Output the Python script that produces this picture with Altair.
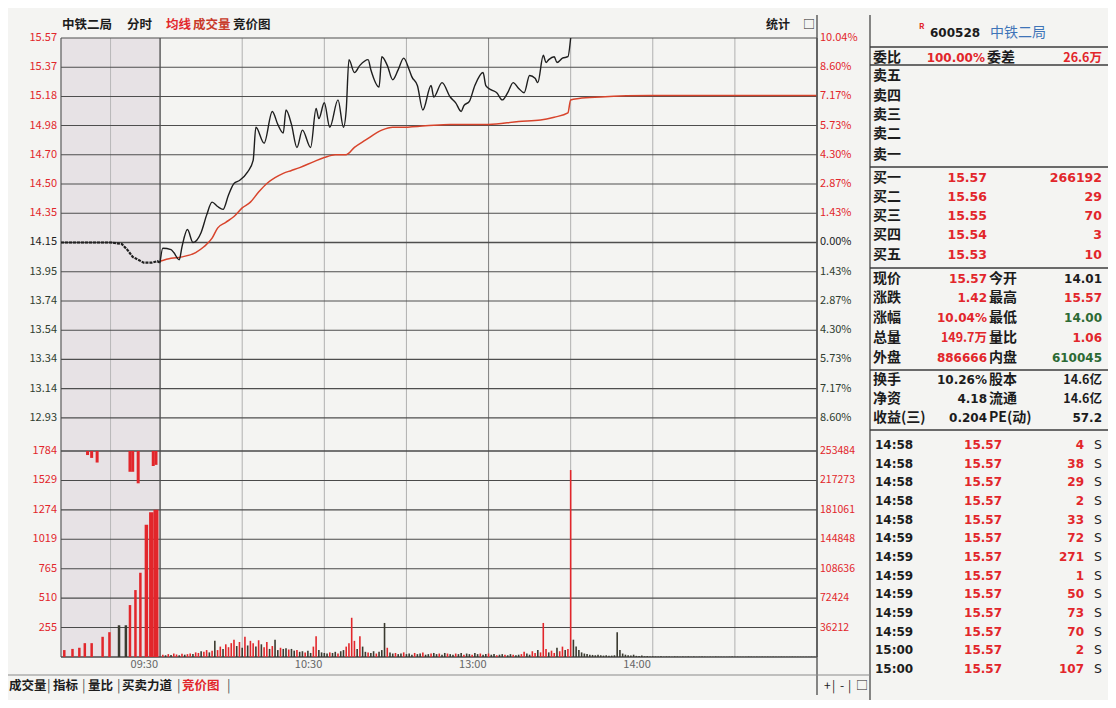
import altair as alt
import pandas as pd

# ------------------------------------------------------------------ data
prev_close = 14.15
grid_prices = [15.57, 15.367, 15.164, 14.962, 14.759, 14.556, 14.353, 14.15,
               13.947, 13.744, 13.541, 13.338, 13.135, 12.932]
price_labels = ["15.57", "15.37", "15.18", "14.98", "14.70", "14.50", "14.35", "14.15",
                "13.95", "13.74", "13.54", "13.34", "13.14", "12.93"]
pct_labels = ["10.04%", "8.60%", "7.17%", "5.73%", "4.30%", "2.87%", "1.43%", "0.00%",
              "1.43%", "2.87%", "4.30%", "5.73%", "7.17%", "8.60%"]
vol_grid = [255, 510, 765, 1020, 1275, 1530, 1785]
vol_labels_left = ["255", "510", "765", "1019", "1274", "1529", "1784"]
vol_labels_right = ["36212", "72424", "108636", "144848", "181061", "217273", "253484"]
time_ticks = [0, 60, 120, 180]
time_labels = ["09:30", "10:30", "13:00", "14:00"]
vgrid_m = [-36.2, -18.1, 0, 30, 60, 90, 120, 150, 180, 210, 240]

# call-auction (pre-market) part
pre_min = [-36.2, -30, -24, -18, -14, -12, -10, -8, -6, -3, -1, 0]
pre_price = [14.15, 14.15, 14.15, 14.15, 14.14, 14.10, 14.05, 14.03, 14.01, 14.01, 14.02, 14.01]
auction_min = [-35, -32, -29.5, -27.5, -25, -21, -18.5, -15, -12.5, -11, -9, -7.2, -5, -3.2, -1.5]
auction_vol = [60, 70, 80, 120, 120, 175, 215, 275, 275, 450, 580, 730, 1145, 1255, 1275]
auction_up = "rrrrrrrkkrrrrrr"
gap_min = [-26.5, -25, -23, -11, -10, -8, -2.5, -1.5]
gap_depth = [35, 60, 100, 180, 180, 280, 130, 120]

# intraday price (minutes after 09:30)
price_min = [0, 1, 4, 5, 7, 8, 10, 12, 15, 17, 19, 21, 23, 25, 27, 29, 32, 34, 35, 38,
             41, 43, 45, 46, 48, 50, 52, 55, 57, 58, 60, 62, 65, 67, 68, 69, 71, 73, 76, 77,
             80, 81, 83, 85, 87, 89, 91, 92, 94, 96, 99, 100, 103, 106, 108, 110, 111, 113, 115, 118,
             119, 121, 123, 125, 127, 129, 131, 133, 135, 137, 138, 140, 141, 142, 144, 145, 147, 149, 150]
price_val = [14.01, 14.11, 14.10, 14.08, 14.03, 14.12, 14.24, 14.15, 14.22, 14.34,
             14.43, 14.40, 14.38, 14.48, 14.56, 14.58, 14.64, 14.72, 14.95, 14.84,
             15.06, 14.97, 14.91, 15.07, 14.97, 14.81, 14.93, 14.81, 15.08, 15.01,
             15.12, 14.95, 15.14, 14.95, 15.07, 15.42, 15.33, 15.38, 15.42, 15.35,
             15.23, 15.44, 15.38, 15.28, 15.35, 15.43, 15.35, 15.30, 15.24, 15.07,
             15.24, 15.16, 15.26, 15.16, 15.12, 15.06, 15.10, 15.13, 15.24, 15.33,
             15.24, 15.21, 15.19, 15.14, 15.19, 15.26, 15.22, 15.19, 15.31, 15.29,
             15.26, 15.45, 15.40, 15.42, 15.44, 15.40, 15.43, 15.44, 15.57]
avg_min = [0, 4, 8, 13, 16, 19, 21, 24, 27, 30, 33, 36, 39, 42, 45, 48, 51, 56, 60, 64,
           68, 71, 75, 81, 85, 88, 97, 106, 120, 131, 139, 144, 149, 150, 153, 161, 179, 210, 240]
avg_val = [14.02, 14.04, 14.05, 14.08, 14.12, 14.18, 14.25, 14.29, 14.33, 14.39,
           14.43, 14.50, 14.56, 14.60, 14.63, 14.65, 14.67, 14.71, 14.74, 14.76,
           14.76, 14.81, 14.86, 14.93, 14.95, 14.95, 14.96, 14.97, 14.97, 14.99,
           15.00, 15.02, 15.05, 15.14, 15.15, 15.16, 15.17, 15.17, 15.17]

# per-minute volume (lots), minute 1..240
vol = [20, 15, 25, 18, 30, 22, 15, 28, 20, 25,
       30, 25, 40, 35, 50, 45, 60, 40, 55, 140,
       60, 90, 70, 110, 85, 120, 150, 95, 130, 80,
       175, 100, 140, 120, 90, 145, 110, 85, 130, 70,
       95, 150, 60, 80, 70, 75, 65, 70, 55, 60,
       45, 50, 40, 55, 35, 90, 180, 60, 40, 35,
       30, 40, 35, 45, 30, 50, 60, 90, 120, 340,
       140, 70, 180, 90, 45, 40, 35, 50, 30, 45,
       60, 295, 80, 40, 30, 35, 25, 30, 40, 25,
       30, 20, 35, 25, 30, 40, 20, 25, 30, 35,
       25, 30, 20, 35, 30, 25, 20, 30, 25, 35,
       20, 30, 25, 20, 35, 25, 30, 20, 25, 30,
       20, 25, 15, 20, 25, 20, 15, 25, 20, 15,
       20, 25, 45, 30, 20, 50, 35, 60, 40, 295,
       70, 40, 55, 35, 80, 50, 90, 60, 70, 1620,
       150, 90, 60, 40, 30, 25, 20, 18, 15, 20,
       15, 12, 15, 10, 12, 15, 215, 60, 30, 20,
       15, 12, 20, 10, 8, 12, 6, 8, 5, 6,
       5, 4, 6, 3, 5, 4, 3, 5, 4, 3,
       4, 3, 5, 3, 4, 2, 3, 4, 3, 2,
       3, 2, 4, 3, 2, 3, 2, 3, 4, 2,
       3, 2, 3, 2, 4, 3, 2, 3, 2, 3,
       2, 3, 2, 3, 2, 2, 3, 2, 3, 2,
       3, 2, 3, 2, 2, 3, 2, 3, 2, 4]
vol_up = ("rkrkrrkrkr" "rkrrkrrkrk" "rrkrrrrkrk" "rkrrkrkrrk" "rkkrkkrkkr"
          "kkrkkrrkkk" "krkkrkkrrr" "rkrkkrkkrk" "kkrkkrkkrk" "kkrkkrkkrk"
          "krkkrkkrkk" "rkkrkkrkkr" "kkrkkrkkrk" "krrkkrrkrr" "rkrrkrrkrr"
          "kkkkkkkkkk" "kkkkkkkkkk" "kkkkkkkkkk" "kkkkkkkkkk" "kkkkkkkkkk"
          "kkkkkkkkkk" "kkkkkkkkkk" "kkkkkkkkkk" "kkkkkkkkkk")

# right-hand quote panel
stock_code = "600528"
stock_name = "中铁二局"
order_row = ["委比", "100.00%", "委差", "26.6万"]
ask_labels = ["卖五", "卖四", "卖三", "卖二", "卖一"]
bid_labels = ["买一", "买二", "买三", "买四", "买五"]
bid_prices = ["15.57", "15.56", "15.55", "15.54", "15.53"]
bid_vols = ["266192", "29", "70", "3", "10"]
quote_l1 = ["现价", "涨跌", "涨幅", "总量", "外盘", "换手", "净资", "收益(三)"]
quote_v1 = ["15.57", "1.42", "10.04%", "149.7万", "886666", "10.26%", "4.18", "0.204"]
quote_l2 = ["今开", "最高", "最低", "量比", "内盘", "股本", "流通", "PE(动)"]
quote_v2 = ["14.01", "15.57", "14.00", "1.06", "610045", "14.6亿", "14.6亿", "57.2"]
trade_times = ["14:58"] * 5 + ["14:59"] * 6 + ["15:00"] * 2
trade_prices = ["15.57"] * 13
trade_vols = ["4", "38", "29", "2", "33", "72", "271", "1", "50", "73", "70", "2", "107"]
trade_side = ["S"] * 13
header_tabs = ["中铁二局", "分时", "均线", "成交量", "竞价图"]
bottom_tabs = ["成交量", "指标", "量比", "买卖力道", "竞价图"]

# ------------------------------------------------------------------ style / layout
W, H = 756, 619
FONT = "Noto Sans CJK SC"
NUMFONT = "DejaVu Sans"
RED = "#e2262b"
DARK = "#1c1c1c"
NEG = "#2f3d2f"
GREEN = "#2c6a34"
BLUE = "#3f74b8"
BARK = "#3a3a30"
BG = "#f4f4f2"

XDOM = [-36.2, 240]
xs = alt.Scale(domain=XDOM, nice=False, zero=False)
ps = alt.Scale(domain=[15.57 - H / 144.0, 15.57], nice=False, zero=False)
vs = alt.Scale(domain=[0, H / (206.0 / 1785.0)], nice=False, zero=False)

def X(f):
    return alt.X(f, type="quantitative", scale=xs, axis=None)

def PY(f):
    return alt.Y(f, type="quantitative", scale=ps, axis=None)

def VY(f):
    return alt.Y(f, type="quantitative", scale=vs, axis=None)

def PX(f):
    return alt.X(f, type="quantitative", scale=None, axis=None)

def PYY(f):
    return alt.Y(f, type="quantitative", scale=None, axis=None)

layers = []

# pre-market shading
shade = pd.DataFrame({"m0": [XDOM[0]], "m1": [0]})
layers.append(alt.Chart(shade).mark_rect(color="#e7e2e5").encode(
    x=X("m0"), x2="m1", y=alt.value(0), y2=alt.value(H)))

# vertical grid
vcol = ["#666666", "#b8b8b8", "#555555", "#b0b0b0", "#b0b0b0", "#b0b0b0", "#888888",
        "#b0b0b0", "#b0b0b0", "#b0b0b0", "#555555"]
vw = [1.3, 1, 1.4, 1, 1, 1, 1.1, 1, 1, 1, 1.4]
vg = pd.DataFrame({"m": vgrid_m, "c": vcol, "w": vw})
layers.append(alt.Chart(vg).mark_rule().encode(
    x=X("m"), y=alt.value(0), y2=alt.value(H),
    color=alt.Color("c:N", scale=None), strokeWidth=alt.StrokeWidth("w:Q", scale=None)))

# horizontal price grid
hg = pd.DataFrame({"p": grid_prices,
                   "w": [1.3 if p == prev_close else 1.1 for p in grid_prices]})
layers.append(alt.Chart(hg).mark_rule(color="#4e4e4e").encode(
    y=PY("p"), x=alt.value(0), x2=alt.value(W), strokeWidth=alt.StrokeWidth("w:Q", scale=None)))

# horizontal volume grid
vgd = pd.DataFrame({"v": [0] + vol_grid, "w": [1.4] + [1.1] * 6 + [1.6]})
layers.append(alt.Chart(vgd).mark_rule(color="#4a4a4a").encode(
    y=VY("v"), x=alt.value(0), x2=alt.value(W), strokeWidth=alt.StrokeWidth("w:Q", scale=None)))

# volume bars
vdf = pd.DataFrame({"m": list(range(1, 241)), "v": vol,
                    "c": [RED if ch == "r" else BARK for ch in vol_up], "z": 0})
layers.append(alt.Chart(vdf).mark_rule(strokeWidth=1.6).encode(
    x=X("m"), y=VY("v"), y2="z:Q", color=alt.Color("c:N", scale=None)))

adf = pd.DataFrame({"m": auction_min, "v": auction_vol,
                    "c": [RED if ch == "r" else BARK for ch in auction_up], "z": 0,
                    "w": [2.5] * 12 + [3.5, 4.5, 5]})
layers.append(alt.Chart(adf).mark_rule().encode(
    x=X("m"), y=VY("v"), y2="z:Q", color=alt.Color("c:N", scale=None),
    strokeWidth=alt.StrokeWidth("w:Q", scale=None)))

gdf = pd.DataFrame({"m": gap_min, "top": [1785] * len(gap_min),
                    "bot": [1785 - d for d in gap_depth]})
layers.append(alt.Chart(gdf).mark_rule(color=RED, strokeWidth=3).encode(
    x=X("m"), y=VY("top"), y2="bot:Q"))

# price lines
pre_df = pd.DataFrame({"m": pre_min, "p": pre_price})
layers.append(alt.Chart(pre_df).mark_line(color="#202020", strokeWidth=2.2,
                                          strokeDash=[3, 1]).encode(
    x=X("m"), y=PY("p")))
avg_df = pd.DataFrame({"m": avg_min, "p": avg_val})
layers.append(alt.Chart(avg_df).mark_line(color="#d8442c", strokeWidth=1.5,
                                          interpolate="monotone").encode(
    x=X("m"), y=PY("p")))
pr_df = pd.DataFrame({"m": price_min, "p": price_val})
layers.append(alt.Chart(pr_df).mark_line(color="#1e1e1e", strokeWidth=1.4,
                                         interpolate="monotone").encode(
    x=X("m"), y=PY("p")))

# axis labels (price / percent)
lab_colors = [RED] * 7 + [DARK] + [NEG] * 6
pl = pd.DataFrame({"p": grid_prices, "t": price_labels, "c": lab_colors})
layers.append(alt.Chart(pl).mark_text(align="right", baseline="middle", font=FONT,
                                      fontSize=11).encode(
    x=alt.value(-4), y=PY("p"), text="t:N", color=alt.Color("c:N", scale=None)))
pc = pd.DataFrame({"p": grid_prices, "t": pct_labels, "c": lab_colors})
layers.append(alt.Chart(pc).mark_text(align="left", baseline="middle", font=FONT,
                                      fontSize=11).encode(
    x=alt.value(W + 3), y=PY("p"), text="t:N", color=alt.Color("c:N", scale=None)))
vl = pd.DataFrame({"v": vol_grid, "t": vol_labels_left})
layers.append(alt.Chart(vl).mark_text(align="right", baseline="middle", font=FONT,
                                      fontSize=11, color=RED).encode(
    x=alt.value(-4), y=VY("v"), text="t:N"))
vr = pd.DataFrame({"v": vol_grid, "t": vol_labels_right})
layers.append(alt.Chart(vr).mark_text(align="left", baseline="middle", font=FONT,
                                      fontSize=10.5, color=RED).encode(
    x=alt.value(W + 3), y=VY("v"), text="t:N"))
tl = pd.DataFrame({"m": time_ticks, "t": time_labels})
layers.append(alt.Chart(tl).mark_text(align="right", baseline="middle", font=FONT,
                                      fontSize=11, color="#666666", dx=-2).encode(
    x=X("m"), y=alt.value(627), text="t:N"))

# frame lines (panel separators) in pixel space
segs = [
    (W, W, -23, 657, "#555555", 1.4),          # right border of chart
    (809, 809, -23, 662, "#555555", 1.4),      # left border of quote panel
    (809, 1047, 9, 9, "#3c3c3c", 1.6),
    (809, 1047, 27, 27, "#3c3c3c", 1.6),
    (809, 1047, 129, 129, "#3c3c3c", 1.6),
    (809, 1047, 230, 230, "#3c3c3c", 1.6),
    (809, 1047, 332, 332, "#3c3c3c", 1.6),
    (809, 1047, 392, 392, "#3c3c3c", 1.6),
    (-53, 809, 637, 637, "#8a8a8a", 1.0),      # tab bar top
]
sdf = pd.DataFrame(segs, columns=["x", "x2", "y", "y2", "c", "w"])
layers.append(alt.Chart(sdf).mark_rule().encode(
    x=PX("x"), x2="x2:Q", y=PYY("y"), y2="y2:Q",
    color=alt.Color("c:N", scale=None), strokeWidth=alt.StrokeWidth("w:Q", scale=None)))

# text rows in pixel space
rows = []

def add(x, y, t, c, s, align="left", w="bold", font=FONT):
    rows.append({"x": x, "y": y, "t": t, "c": c, "s": s, "a": align, "w": w, "f": font})

# header above chart
hx = [1, 66, 105, 132, 172]
hc = [DARK, DARK, RED, "#c83a2a", DARK]
for x, t, c in zip(hx, header_tabs, hc):
    add(x, -13, t, c, 12.5)
add(705, -13, "统计", DARK, 12)
add(742, -13, "□", DARK, 12, w="normal")

# stock title
add(858, -11, "R", RED, 8)
add(869, -5, stock_code, DARK, 12, font=NUMFONT)
add(929, -5, stock_name, BLUE, 14, w="normal")

# order ratio row
add(812, 20, order_row[0], DARK, 14)
add(924, 20, order_row[1], RED, 12, "right", font=NUMFONT)
add(926, 20, order_row[2], DARK, 14)
add(1041, 20, order_row[3], RED, 12.5, "right")

ask_y = [38, 58, 77, 96, 117]
for y, t in zip(ask_y, ask_labels):
    add(812, y, t, DARK, 14)
bid_y = [140, 159, 178, 197, 217]
for y, l, p, v in zip(bid_y, bid_labels, bid_prices, bid_vols):
    add(812, y, l, DARK, 14)
    add(926, y, p, RED, 12.5, "right", font=NUMFONT)
    add(1041, y, v, RED, 12.5, "right", font=NUMFONT)

q_y = [241, 260, 280, 300, 320, 342, 361, 380]
v1c = [RED, RED, RED, RED, RED, DARK, DARK, DARK]
v2c = [DARK, RED, GREEN, RED, GREEN, DARK, DARK, DARK]
for i, y in enumerate(q_y):
    add(812, y, quote_l1[i], DARK, 14)
    f1 = FONT if ("万" in quote_v1[i]) else NUMFONT
    f2 = FONT if ("亿" in quote_v2[i]) else NUMFONT
    add(926, y, quote_v1[i], v1c[i], 12 if f1 == NUMFONT else 12.5, "right", font=f1)
    add(928, y, quote_l2[i], DARK, 14)
    add(1041, y, quote_v2[i], v2c[i], 12 if f2 == NUMFONT else 12.5, "right", font=f2)

for k in range(len(trade_times)):
    y = 407 + 18.67 * k
    add(814, y, trade_times[k], DARK, 12, font=NUMFONT)
    add(941, y, trade_prices[k], RED, 12, "right", font=NUMFONT)
    add(1023, y, trade_vols[k], RED, 12, "right", font=NUMFONT)
    add(1033, y, trade_side[k], DARK, 12.5, w="normal", font=NUMFONT)

# bottom tabs
btx = [-52, -8, 27, 61, 121]
btc = [DARK, DARK, DARK, DARK, RED]
for x, t, c in zip(btx, bottom_tabs, btc):
    add(x, 648, t, c, 12.5)
for x in [-14, 21, 56, 116, 166]:
    add(x, 648, "|", "#555555", 13, w="normal")
for x, t in zip([763, 771, 779, 787, 795], ["+", "|", "-", "|", "□"]):
    add(x, 648, t, DARK, 12, w="normal")

tdf = pd.DataFrame(rows)
for (a, w, f), sub in tdf.groupby(["a", "w", "f"]):
    layers.append(alt.Chart(sub).mark_text(align=a, baseline="middle", font=f,
                                           fontWeight=w).encode(
        x=PX("x"), y=PYY("y"), text="t:N",
        color=alt.Color("c:N", scale=None), size=alt.Size("s:Q", scale=None)))

chart = alt.layer(*layers).resolve_scale(
    x="independent", y="independent", color="independent",
    size="independent", strokeWidth="independent"
).properties(
    width=W, height=H,
    autosize=alt.AutoSizeParams(type="none"),
    padding={"left": 53, "top": 30, "right": 291, "bottom": 43},
    background=BG,
).configure_view(stroke=None)

chart.save("out.html", embed_options={"renderer": "svg", "actions": False})
